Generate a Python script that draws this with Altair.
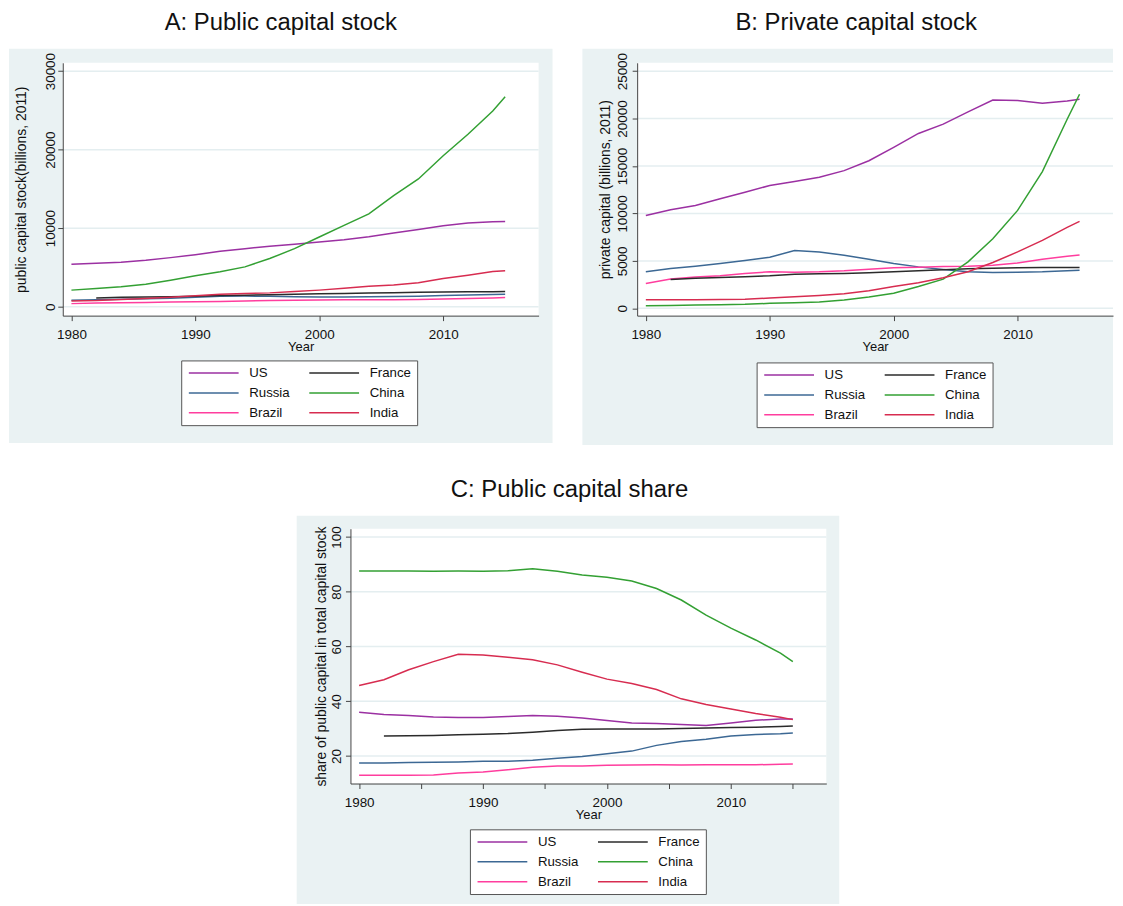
import altair as alt
import pandas as pd

# ---------------- data ----------------
YEARS = [1980, 1982, 1984, 1986, 1988, 1990, 1992, 1994, 1996, 1998,
         2000, 2002, 2004, 2006, 2008, 2010, 2012, 2014, 2015]
# legend fills column by column: (US, Russia, Brazil) | (France, China, India)
COUNTRIES = ["US", "Russia", "Brazil", "France", "China", "India"]
COLORS = ["#9B30A2", "#3C6894", "#FF3D9E", "#2B2B2B", "#33A033", "#D72C50"]

# A: public capital stock (billions, 2011)
PUB_US = [5410, 5530, 5660, 5910, 6250, 6630, 7060, 7390, 7690, 7940,
          8240, 8540, 8920, 9380, 9840, 10310, 10650, 10820, 10860]
PUB_FRANCE = [None, 1120, 1190, 1230, 1280, 1330, 1410, 1460, 1520, 1590,
              1640, 1680, 1730, 1790, 1830, 1860, 1890, 1910, 1930]
PUB_RUSSIA = [820, 890, 950, 1020, 1090, 1190, 1340, 1350, 1330, 1280,
              1240, 1220, 1280, 1300, 1340, 1430, 1490, 1540, 1590]
PUB_CHINA = [2110, 2320, 2540, 2870, 3380, 3930, 4440, 5070, 6130, 7390,
             8870, 10350, 11830, 14150, 16270, 19220, 21970, 24930, 26740]
PUB_BRAZIL = [390, 460, 490, 520, 590, 640, 670, 730, 780, 810,
              850, 870, 890, 890, 920, 970, 1050, 1120, 1160]
PUB_INDIA = [740, 800, 930, 1050, 1210, 1390, 1570, 1680, 1760, 1920,
             2110, 2360, 2610, 2770, 3060, 3580, 4000, 4490, 4570]

# B: private capital (billions, 2011)
PRI_US = [9790, 10390, 10840, 11540, 12240, 12940, 13360, 13810, 14510, 15560,
          16960, 18430, 19410, 20700, 21950, 21900, 21610, 21860, 22030]
PRI_FRANCE = [None, 3050, 3180, 3250, 3320, 3430, 3600, 3640, 3670, 3740,
              3850, 3950, 4060, 4160, 4230, 4270, 4300, 4300, 4300]
PRI_RUSSIA = [3850, 4200, 4440, 4720, 5035, 5385, 6085, 5945, 5595, 5175,
              4720, 4370, 4090, 3850, 3780, 3810, 3850, 3950, 4020]
PRI_CHINA = [280, 300, 350, 380, 420, 525, 595, 665, 875, 1190,
             1600, 2300, 3080, 4900, 7340, 10320, 14410, 19930, 22560]
PRI_BRAZIL = [2620, 3080, 3290, 3430, 3670, 3850, 3810, 3850, 3950, 4130,
              4270, 4340, 4410, 4440, 4550, 4790, 5175, 5490, 5630]
PRI_INDIA = [900, 900, 900, 920, 960, 1080, 1225, 1360, 1540, 1850,
             2300, 2690, 3220, 3850, 4830, 5945, 7170, 8530, 9160]

# C: share of public capital in total capital stock (%)
SH_US = [36.0, 35.2, 34.8, 34.3, 34.1, 34.1, 34.4, 34.8, 34.5, 33.9,
         33.0, 32.1, 31.9, 31.5, 31.2, 32.1, 33.1, 33.5, 33.5]
SH_FRANCE = [None, 27.3, 27.4, 27.5, 27.8, 28.0, 28.2, 28.7, 29.3, 29.8,
             29.9, 29.9, 29.9, 30.1, 30.2, 30.4, 30.5, 30.8, 31.0]
SH_RUSSIA = [17.5, 17.5, 17.6, 17.7, 17.8, 18.1, 18.1, 18.5, 19.2, 19.8,
             20.8, 21.8, 23.9, 25.3, 26.1, 27.3, 27.9, 28.1, 28.4]
SH_CHINA = [87.6, 87.6, 87.6, 87.5, 87.6, 87.5, 87.7, 88.4, 87.5, 86.1,
            85.3, 83.9, 81.2, 77.0, 71.5, 66.7, 62.4, 57.6, 54.5]
SH_BRAZIL = [13.0, 13.0, 13.0, 13.1, 13.8, 14.2, 15.0, 15.9, 16.4, 16.4,
             16.6, 16.7, 16.8, 16.7, 16.8, 16.8, 16.8, 17.0, 17.1]
SH_INDIA = [45.8, 47.9, 51.5, 54.5, 57.2, 56.9, 56.1, 55.2, 53.3, 50.6,
            48.1, 46.5, 44.3, 40.9, 38.8, 37.2, 35.5, 34.2, 33.3]

TICKS_A = [0, 10000, 20000, 30000]
TICKS_B = [0, 5000, 10000, 15000, 20000, 25000]
TICKS_C = [20, 40, 60, 80, 100]
XTICKS_AB = [1980, 1990, 2000, 2010]
XTICKS_C = [1980, 1985, 1990, 1995, 2000, 2005, 2010, 2015]

FONT = "Liberation Sans"
TXT = "#111111"
BG = "#EAF2F3"
W = 478


def long_df(series):
    rows = []
    for c, vals in zip(COUNTRIES, series):
        for yr, v in zip(YEARS, vals):
            if v is not None:
                rows.append({"year": yr, "country": c, "value": v})
    return pd.DataFrame(rows)


def panel(title, series, ytitle, ydomain, yticks, xticks, h, box, legxy,
          ytitle_pad, ylabel_pad, title_dx):
    one = pd.DataFrame({"k": [0]})
    left, right, top, bottom = box
    bg = alt.Chart(one).mark_rect(color=BG).encode(
        x=alt.value(left), x2=alt.value(W + right),
        y=alt.value(top), y2=alt.value(bottom))
    plotbg = alt.Chart(one).mark_rect(color="white").encode(
        x=alt.value(0), x2=alt.value(W), y=alt.value(0), y2=alt.value(h))

    xscale = alt.Scale(domain=[1979.3, 2017.7], nice=False, zero=False)
    yscale = alt.Scale(domain=ydomain, nice=False, zero=False)
    xaxis = alt.Axis(values=xticks, title="Year", format="d",
                     labelExpr="datum.value % 10 == 0 ? datum.label : ''",
                     labelFlush=False, labelPadding=7, titlePadding=0,
                     titleFontSize=13, grid=False, zindex=2)
    yaxis = alt.Axis(values=yticks, title=ytitle, format="d", labelAngle=270,
                     labelAlign="center", labelBaseline="alphabetic",
                     labelPadding=ylabel_pad, titlePadding=ytitle_pad,
                     titleFontSize=14, labelOverlap=False, grid=False,
                     zindex=2)

    grid = alt.Chart(pd.DataFrame({"tick": yticks})).mark_rule(
        color="#E4EEF0", strokeWidth=1.5).encode(
        y=alt.Y("tick:Q", scale=yscale, axis=yaxis))

    lines = alt.Chart(long_df(series)).mark_line(strokeWidth=1.5).encode(
        x=alt.X("year:Q", scale=xscale, axis=xaxis),
        y=alt.Y("value:Q", scale=yscale, axis=yaxis),
        color=alt.Color(
            "country:N",
            scale=alt.Scale(domain=COUNTRIES, range=COLORS),
            legend=alt.Legend(
                orient="none", legendX=legxy[0], legendY=legxy[1],
                columns=2, title=None, symbolType="M-1,0H9", symbolSize=100,
                symbolStrokeWidth=1.5, labelOffset=49, columnPadding=16,
                rowPadding=6, padding=6, fillColor="white",
                strokeColor="#555555", labelFont=FONT, labelFontSize=13.3,
                labelColor=TXT, zindex=3)))

    return alt.layer(bg, plotbg, grid, lines).properties(
        width=W, height=h,
        title=alt.TitleParams(text=title, fontSize=24, font=FONT,
                              fontWeight="normal", color=TXT, anchor="middle",
                              frame="group", offset=14, dx=title_dx))


A = panel("A: Public capital stock",
          [PUB_US, PUB_RUSSIA, PUB_BRAZIL, PUB_FRANCE, PUB_CHINA, PUB_INDIA],
          "public capital stock(billions, 2011)", [-1140, 31065], TICKS_A,
          XTICKS_AB, 254, (-54, 14, -14, 382), (119, 299), 15, 3, -20)
B = panel("B: Private capital stock",
          [PRI_US, PRI_RUSSIA, PRI_BRAZIL, PRI_FRANCE, PRI_CHINA, PRI_INDIA],
          "private capital (billions, 2011)", [-770, 25880], TICKS_B,
          XTICKS_AB, 254, (-55, 0, -14, 384), (120, 301), 3, 6, -19)
C = panel("C: Public capital share",
          [SH_US, SH_RUSSIA, SH_BRAZIL, SH_FRANCE, SH_CHINA, SH_INDIA],
          "share of public capital in total capital stock", [9.96, 103.05],
          TICKS_C, XTICKS_C, 256, (-54, 13, -13, 377), (120, 302), 1, 5, -19)

# invisible spacer that places panel C under the middle of the page
spacer = alt.Chart(pd.DataFrame({"k": [0]})).mark_point(opacity=0).encode(
    x=alt.value(10), y=alt.value(5)).properties(width=233, height=10)

top = alt.hconcat(A, B, spacing=28).resolve_scale(
    x="independent", y="independent", color="independent")
bottom = alt.hconcat(spacer, C, spacing=0).resolve_scale(
    x="independent", y="independent", color="independent")
chart = alt.vconcat(top, bottom, spacing=31).resolve_scale(
    x="independent", y="independent", color="independent").properties(
    padding={"left": 0, "top": 0, "right": 0, "bottom": 0}
).configure_view(stroke="transparent").configure_axis(
    domainColor="#444444", domainWidth=1, tickColor="#444444",
    tickSize=5, tickWidth=1, labelFont=FONT, labelFontSize=13.5,
    labelColor=TXT, titleFont=FONT, titleFontWeight="normal", titleColor=TXT)

chart.save("out.html", embed_options={"renderer": "svg", "actions": False})
